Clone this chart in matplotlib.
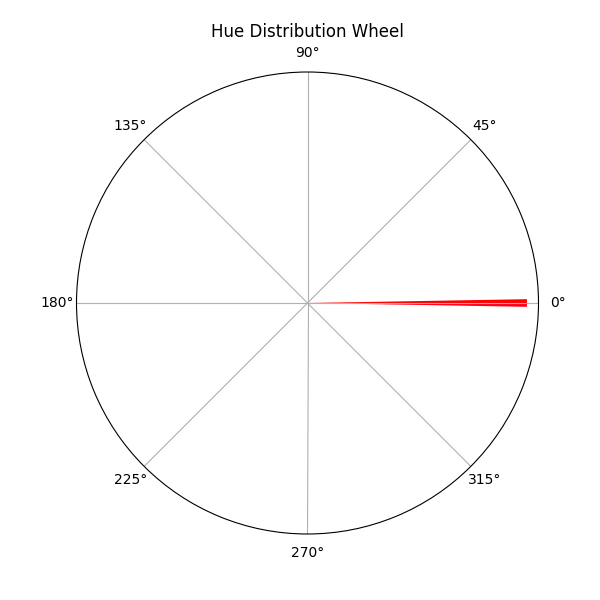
import numpy as np
import matplotlib
matplotlib.use("Agg")
import matplotlib.pyplot as plt

# 360 one-degree hue bins; only the two bins adjacent to 0° are populated
n_bins = 360
hue_bins = list(range(n_bins))
counts = [0] * n_bins
counts[0] = 9500
counts[359] = 9500
r_max = 10000

fig = plt.figure(figsize=(6, 6), dpi=100)
ax = fig.add_subplot(111, projection="polar")

theta = np.deg2rad(hue_bins)
width = np.deg2rad(360 / n_bins)
colors = plt.cm.hsv(np.array(hue_bins) / n_bins)
ax.bar(theta, counts, width=width, align="edge", color=colors, edgecolor="none")

ax.set_ylim(0, r_max)
ax.set_yticks([])
ax.set_title("Hue Distribution Wheel")

fig.savefig("out.png", dpi=100)
